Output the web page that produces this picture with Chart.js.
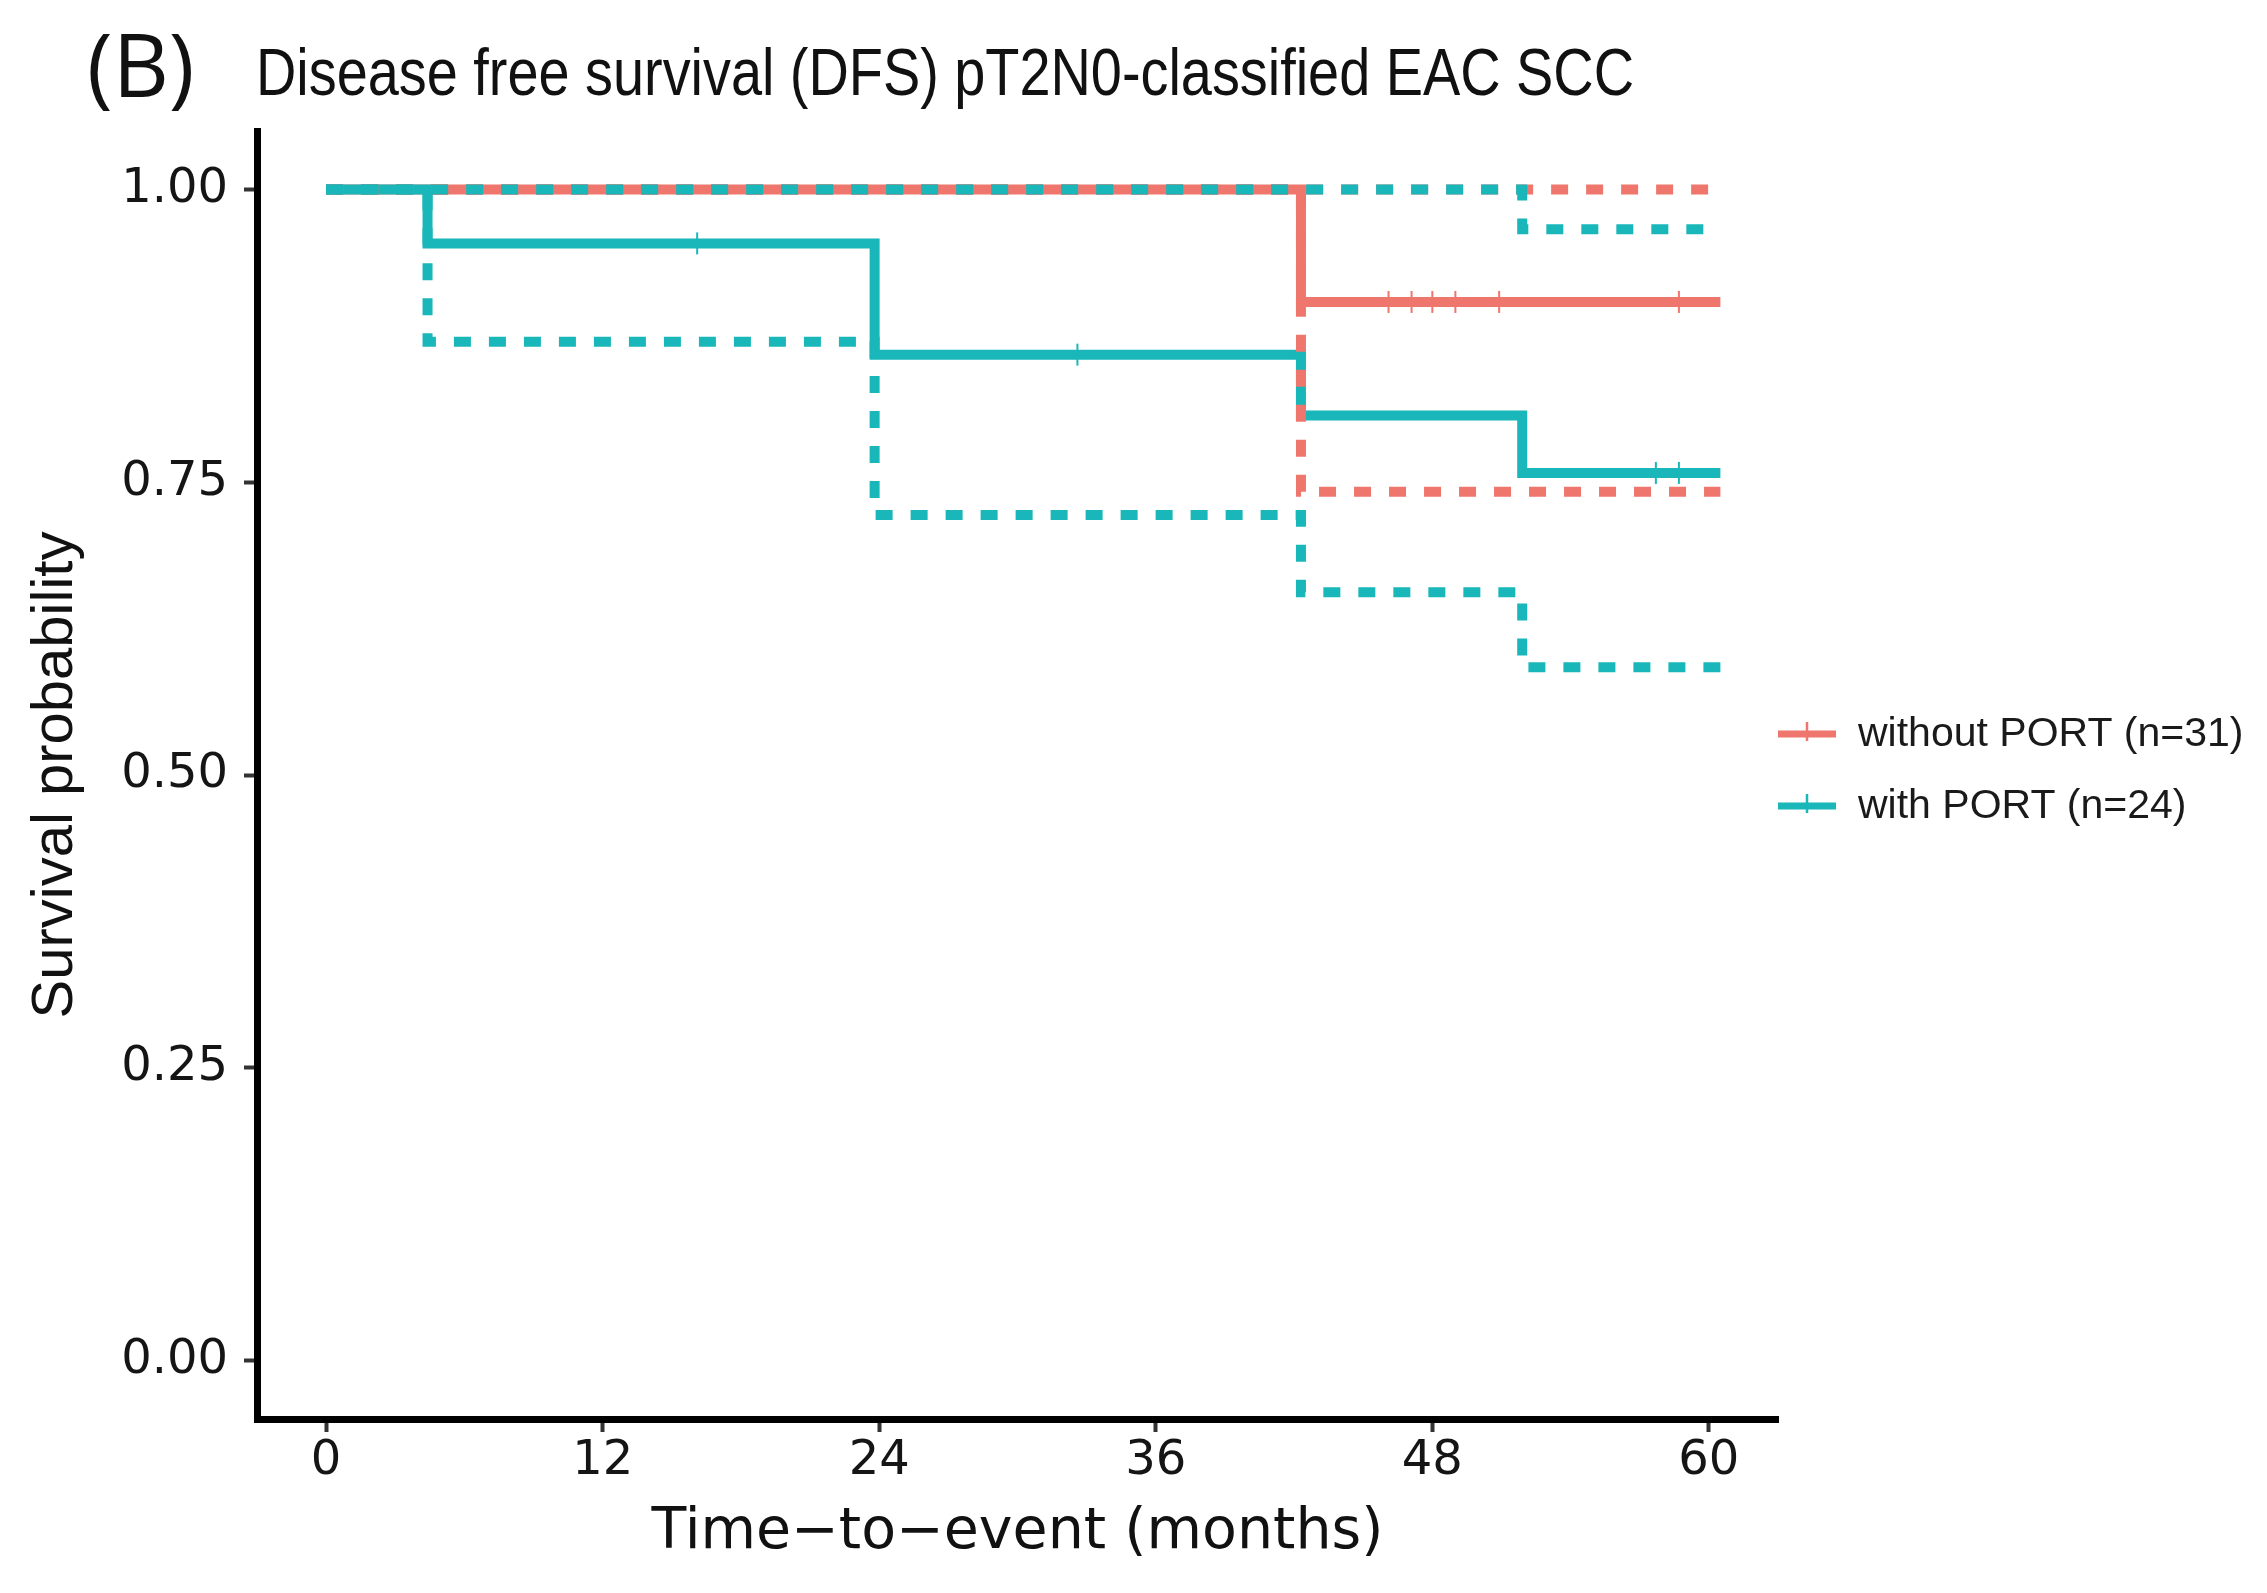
<!DOCTYPE html>
<html>
<head>
<meta charset="utf-8">
<script src="https://cdn.jsdelivr.net/npm/chart.js@4/dist/chart.umd.min.js"></script>
<style>
  html, body { margin: 0; padding: 0; background: #ffffff; }
  #wrap { width: 2267px; height: 1593px; }
</style>
</head>
<body>
<div id="wrap"><canvas id="c" width="2267" height="1593"></canvas></div>
<script>
// ---------------- data ----------------
const panelLabel = "(B)";
const chartTitle = "Disease free survival (DFS) pT2N0-classified EAC SCC";
const xAxisTitle = "Time\u2212to\u2212event (months)";
const yAxisTitle = "Survival probability";
const xTicks = [0, 12, 24, 36, 48, 60];
const yTicks = [0, 0.25, 0.5, 0.75, 1];
const legendLabels = ["without PORT (n=31)", "with PORT (n=24)"];

// without PORT
const redTime  = [0, 42.3, 60.5];
const redSurv  = [1, 0.904, 0.904];
const redUpper = [1, 1, 1];
const redLower = [1, 0.742, 0.742];
const redCensorTime = [46.1, 47.1, 48.0, 49.0, 50.9, 58.7];
const redCensorSurv = [0.904, 0.904, 0.904, 0.904, 0.904, 0.904];

// with PORT
const tealTime  = [0, 4.4, 23.8, 42.3, 51.9, 60.5];
const tealSurv  = [1, 0.954, 0.859, 0.807, 0.758, 0.758];
const tealUpper = [1, 1, 1, 1, 0.966, 0.966];
const tealLower = [1, 0.870, 0.722, 0.656, 0.592, 0.592];
const tealCensorTime = [16.1, 32.6, 57.7, 58.7];
const tealCensorSurv = [0.954, 0.859, 0.758, 0.758];

// ---------------- styling ----------------
const RED = "#EE766D";
const TEAL = "#19B7B9";
const pts = (t, s) => t.map((v, i) => ({ x: v, y: s[i] }));

function stepSet(t, s, color, dashed) {
  return {
    type: "line",
    data: pts(t, s),
    borderColor: color,
    backgroundColor: color,
    borderWidth: dashed ? 10 : 10,
    borderDash: dashed ? [17, 18] : [],
    borderCapStyle: "butt",
    stepped: "before",
    pointRadius: 0,
    fill: false,
    tension: 0
  };
}
function censorSet(t, s, color) {
  return {
    type: "line",
    data: pts(t, s),
    showLine: false,
    pointStyle: "line",
    rotation: 90,
    pointRadius: 11,
    pointBorderWidth: 2,
    borderColor: color,
    backgroundColor: color,
    pointBorderColor: color
  };
}

// first dataset is drawn on top
const datasets = [
  censorSet(tealCensorTime, tealCensorSurv, TEAL),
  censorSet(redCensorTime, redCensorSurv, RED),
  stepSet(tealTime, tealUpper, TEAL, true),
  stepSet(tealTime, tealLower, TEAL, true),
  stepSet(redTime, redUpper, RED, true),
  stepSet(redTime, redLower, RED, true),
  stepSet(tealTime, tealSurv, TEAL, false),
  stepSet(redTime, redSurv, RED, false)
];

const headerPlugin = {
  id: "header",
  afterDraw(chart) {
    const ctx = chart.ctx;
    ctx.save();
    ctx.fillStyle = "#111111";
    ctx.textBaseline = "alphabetic";
    ctx.textAlign = "left";
    ctx.font = "87px 'Open Sans'";
    ctx.fillText(panelLabel, 87, 97);
    ctx.font = "67px 'Liberation Sans'";
    ctx.fillText(chartTitle, 256, 95, 1378);

    // legend
    const colors = [RED, TEAL];
    const ys = [734, 806];
    ctx.font = "41px 'Liberation Sans'";
    ctx.textBaseline = "middle";
    legendLabels.forEach((lab, i) => {
      const y = ys[i];
      ctx.strokeStyle = colors[i];
      ctx.lineWidth = 7;
      ctx.beginPath();
      ctx.moveTo(1778, y);
      ctx.lineTo(1836, y);
      ctx.stroke();
      ctx.lineWidth = 2.5;
      ctx.beginPath();
      ctx.moveTo(1807, y - 12);
      ctx.lineTo(1807, y + 7);
      ctx.stroke();
      ctx.fillStyle = "#1a1a1a";
      ctx.fillText(lab, 1858, y + 1);
    });
    ctx.restore();
  }
};

new Chart(document.getElementById("c"), {
  type: "line",
  data: { datasets },
  options: {
    responsive: false,
    devicePixelRatio: 1,
    animation: false,
    events: [],
    layout: { padding: { left: 0, top: 131, right: 489, bottom: 0 } },
    plugins: {
      legend: { display: false },
      title: { display: false },
      tooltip: { enabled: false }
    },
    scales: {
      x: {
        type: "linear",
        min: -3,
        max: 63,
        afterFit: (s) => { s.height = 174; },
        afterBuildTicks: (s) => { s.ticks = xTicks.map(v => ({ value: v })); },
        grid: { drawOnChartArea: false, drawTicks: true, tickLength: 13, tickWidth: 4, tickColor: "#333333" },
        border: { display: true, width: 7, color: "#000000" },
        ticks: {
          padding: 1,
          color: "#151515",
          font: { family: "'DejaVu Sans'", size: 48 },
          maxRotation: 0,
          callback: (v) => String(v)
        },
        title: {
          display: true,
          text: xAxisTitle,
          color: "#111111",
          font: { family: "'DejaVu Sans'", size: 57 },
          padding: { top: 0, bottom: 26 }
        }
      },
      y: {
        type: "linear",
        min: -0.05,
        max: 1.05,
        afterFit: (s) => { s.width = 257; },
        afterBuildTicks: (s) => { s.ticks = yTicks.map(v => ({ value: v })); },
        grid: { drawOnChartArea: false, drawTicks: true, tickLength: 13, tickWidth: 4, tickColor: "#333333" },
        border: { display: true, width: 7, color: "#000000" },
        ticks: {
          padding: 16,
          color: "#151515",
          font: { family: "'DejaVu Sans'", size: 48 },
          callback: (v) => Number(v).toFixed(2)
        },
        title: {
          display: true,
          text: yAxisTitle,
          color: "#111111",
          font: { family: "'Liberation Sans'", size: 58 },
          padding: { top: 21, bottom: 0 }
        }
      }
    }
  },
  plugins: [headerPlugin]
});
</script>
</body>
</html>
